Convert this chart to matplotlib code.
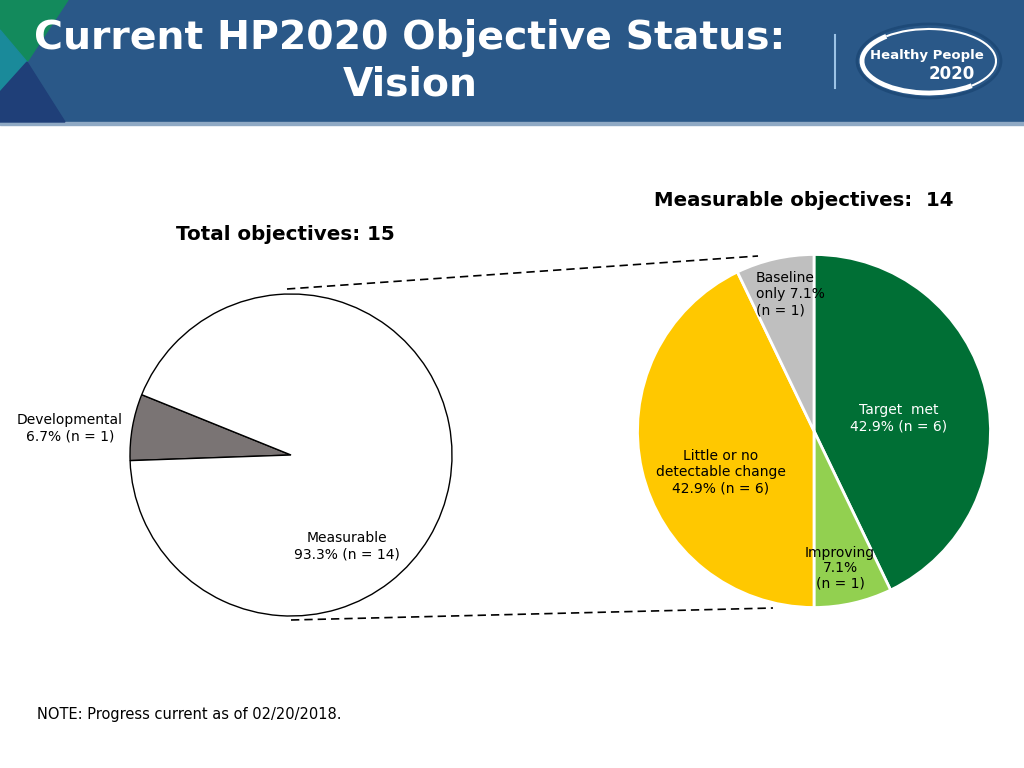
import matplotlib
matplotlib.use("Agg")
import matplotlib.pyplot as plt
from matplotlib.patches import Polygon, Rectangle, Arc, Ellipse

# data
total_labels = ["Developmental\n6.7% (n = 1)", "Measurable\n93.3% (n = 14)"]
total_counts = [1, 14]
total_colors = ["#7a7474", "#ffffff"]

meas_labels = ["Target  met\n42.9% (n = 6)", "Improving\n7.1%\n(n = 1)",
               "Little or no\ndetectable change\n42.9% (n = 6)", "Baseline\nonly 7.1%\n(n = 1)"]
meas_counts = [6, 1, 6, 1]
meas_colors = ["#006f35", "#92d050", "#ffc800", "#bfbfbf"]

title_lines = ["Current HP2020 Objective Status:", "Vision"]
note = "NOTE: Progress current as of 02/20/2018."

W, H = 1024, 768
fig = plt.figure(figsize=(10.24, 7.68), dpi=100)
ax = fig.add_axes([0, 0, 1, 1])

def Y(py):
    return H - py

# header band
hdr = "#2a5888"
ax.add_patch(Rectangle((0, Y(122)), W, 122, color=hdr, zorder=0))
ax.add_patch(Rectangle((0, Y(125)), W, 3, color="#8fa9c4", zorder=0))
ax.add_patch(Polygon([(0, Y(0)), (68, Y(0)), (27, Y(62)), (0, Y(30))], color="#138a5c", zorder=1))
ax.add_patch(Polygon([(0, Y(30)), (27, Y(62)), (0, Y(92))], color="#1a8a9a", zorder=1))
ax.add_patch(Polygon([(0, Y(92)), (27, Y(62)), (65, Y(122)), (0, Y(122))], color="#1f3f78", zorder=1))
ax.text(410, Y(38), title_lines[0], color="white", fontsize=28.4, fontweight="bold",
        ha="center", va="center", zorder=3)
ax.text(410, Y(84), title_lines[1], color="white", fontsize=28.4, fontweight="bold",
        ha="center", va="center", zorder=3)

# logo
ax.plot([835, 835], [Y(35), Y(88)], color="#9cc3e6", lw=1.5, zorder=3)
ax.add_patch(Ellipse((929, Y(61)), 144, 74, fill=False, ec="#1e4a78", lw=2, zorder=3))
ax.add_patch(Arc((929, Y(61)), 134, 64, theta1=150, theta2=330, ec="white", lw=3.5, zorder=4))
ax.add_patch(Arc((929, Y(61)), 134, 64, theta1=330, theta2=150, ec="white", lw=1.5, zorder=4))
ax.text(927, Y(56), "Healthy People", color="white", fontsize=9.5, fontweight="bold",
        ha="center", va="center", zorder=5)
ax.text(952, Y(74), "2020", color="white", fontsize=12, fontweight="bold",
        ha="center", va="center", zorder=5)

# headings
ax.text(804, Y(201), "Measurable objectives:  14", fontsize=14.2, fontweight="bold",
        ha="center", va="center")
ax.text(285, Y(234), "Total objectives: 15", fontsize=14.3, fontweight="bold",
        ha="center", va="center")

# left pie
ax.pie(total_counts, colors=total_colors, startangle=158, center=(291, Y(455)),
       radius=161, frame=True, wedgeprops=dict(edgecolor="black", linewidth=1))
ax.text(70, Y(428), total_labels[0], fontsize=10, ha="center", va="center")
ax.text(347, Y(546), total_labels[1], fontsize=10, ha="center", va="center")

# right pie
ax.pie(meas_counts, colors=meas_colors, startangle=90, counterclock=False,
       center=(814, Y(431)), radius=176.5, frame=True,
       wedgeprops=dict(edgecolor="white", linewidth=2))
ax.text(899, Y(418), meas_labels[0], fontsize=10, color="white", ha="center", va="center")
ax.text(840, Y(568), meas_labels[1], fontsize=10, ha="center", va="center", linespacing=1.1)
ax.text(721, Y(472), meas_labels[2], fontsize=10, ha="center", va="center")
ax.text(756, Y(294), meas_labels[3], fontsize=10, ha="left", va="center")

# connector lines
ax.plot([287, 758], [Y(289), Y(256)], color="black", lw=1.2, ls=(0, (5, 3)))
ax.plot([291, 773], [Y(620), Y(608)], color="black", lw=1.2, ls=(0, (5, 3)))

ax.text(37, Y(714), note, fontsize=10.5, ha="left", va="center")

ax.set_xlim(0, W)
ax.set_ylim(0, H)
ax.set_aspect("auto")
ax.axis("off")
fig.savefig("out.png", dpi=100)
